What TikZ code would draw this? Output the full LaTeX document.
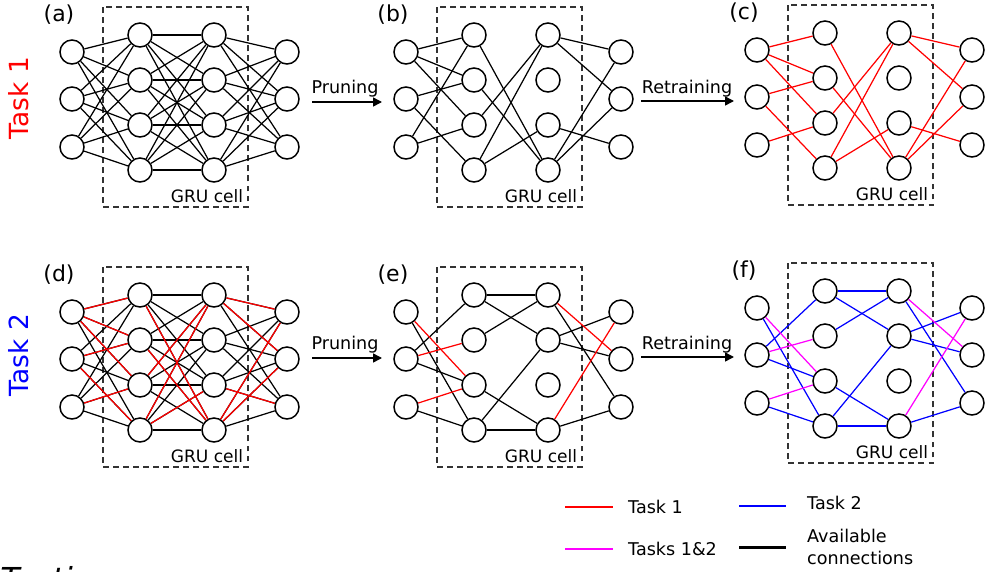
\documentclass[tikz,border=0pt]{standalone}
\usepackage{fontspec}
\setmainfont{DejaVu Sans}
\usetikzlibrary{arrows.meta}
\definecolor{taskone}{RGB}{255,0,0}
\definecolor{tasktwo}{RGB}{0,0,255}
\definecolor{taskboth}{RGB}{255,0,255}

% one panel: prefix, shift x, shift y, letter
\newcommand{\grupanel}[4]{%
  \begin{scope}[shift={(#2,#3)}]
    \foreach \k/\y in {1/52,2/99,3/147}{
      \node[unit] (#1i\k) at (72,\y) {};
      \node[unit] (#1o\k) at (287,\y) {};
    }
    \foreach \k/\y in {1/35,2/80,3/125,4/170}{
      \node[unit] (#1h\k) at (140,\y) {};
      \node[unit] (#1g\k) at (214,\y) {};
    }
    \draw[cellbox] (103,7) rectangle (248,207);
    \node[celltxt] (#1cell) at (207,196) {GRU cell};
    \node[paneltag] (#1tag) at (59,15) {(#4)};
  \end{scope}}
\newcommand{\wire}[3]{\foreach \s/\t in {#3}{\draw[#2] (#1\s) -- (#1\t);}}
\newcommand{\fullwires}[1]{%
  \foreach \p in {1,2,3}{\foreach \q in {1,2,3,4}{
    \draw[conn] (#1i\p) -- (#1h\q);
    \draw[conn] (#1g\q) -- (#1o\p);}}
  \foreach \p in {1,2,3,4}{\foreach \q in {1,2,3,4}{
    \draw[conn] (#1h\p) -- (#1g\q);}}}
\newcommand{\taskonewires}[2]{\wire{#1}{#2}{i1/h1,i1/h2,i1/h3,i2/h2,i2/h4,i3/h3,
  h1/g4,h2/g4,h3/g1,h4/g1,h4/g3,g1/o1,g1/o2,g3/o3,g4/o1,g4/o2}}

\begin{document}
\begin{tikzpicture}[x=0.02cm,y=-0.02cm,
  unit/.style={circle,draw,line width=0.85pt,minimum size=0.48cm,inner sep=0pt},
  conn/.style={line width=0.7pt},
  cellbox/.style={draw,dash pattern=on 3.4pt off 2.3pt,line width=0.7pt,black!80},
  celltxt/.style={font=\fontsize{9.7}{11}\selectfont},
  paneltag/.style={font=\fontsize{12.5}{14}\selectfont},
  steplbl/.style={font=\fontsize{10}{12}\selectfont,anchor=base},
  flow/.style={-{Triangle[length=5pt,width=5pt]},line width=0.85pt},
  tasklbl/.style={font=\fontsize{15}{17}\selectfont,rotate=90},
  legtxt/.style={font=\fontsize{10}{12.5}\selectfont,anchor=west,align=left},
  legline/.style={line width=1pt}]
\useasboundingbox (0,0) rectangle (985,572);

\node[tasklbl,taskone] (task1) at (19,98) {Task 1};
\node[tasklbl,tasktwo] (task2) at (19,355) {Task 2};

\grupanel{a}{0}{0}{a}
\grupanel{b}{334}{0}{b}
\grupanel{c}{685}{-2}{c}
\grupanel{d}{0}{260}{d}
\grupanel{e}{334}{260}{e}
\grupanel{f}{685}{256}{f}

% task 1
\fullwires{a}
\taskonewires{b}{conn}
\wire{b}{conn}{i3/h1}
\taskonewires{c}{conn,taskone}

% task 2
\fullwires{d}
\taskonewires{d}{conn,taskone}
\wire{e}{conn}{i1/h4,i2/h1,i2/h3,i3/h4,h1/g1,h1/g2,h2/g1,h3/g4,h4/g2,h4/g4,
  g1/o3,g2/o1,g2/o2,g4/o3}
\wire{e}{conn,taskone}{i1/h3,i2/h2,i3/h3,g1/o2,g4/o1}
\wire{f}{conn,tasktwo}{i1/h4,i2/h1,i2/h3,i3/h4,h1/g1,h1/g2,h2/g1,h3/g4,h4/g2,h4/g4,
  g1/o3,g2/o1,g2/o2,g4/o3}
\wire{f}{conn,taskboth}{i1/h3,i2/h2,i3/h3,g1/o2,g4/o1}

% steps between panels
\coordinate (pr1s) at (312,102); \coordinate (pr1e) at (382,102);
\coordinate (re1s) at (641,101); \coordinate (re1e) at (734,101);
\coordinate (pr2s) at (312,358); \coordinate (pr2e) at (382,358);
\coordinate (re2s) at (641,357); \coordinate (re2e) at (734,357);
\draw[flow] (pr1s) -- (pr1e);
\draw[flow] (re1s) -- (re1e);
\draw[flow] (pr2s) -- (pr2e);
\draw[flow] (re2s) -- (re2e);
\node[steplbl] (prune1) at (345,93) {Pruning};
\node[steplbl] (retrain1) at (687,93) {Retraining};
\node[steplbl] (prune2) at (345,349) {Pruning};
\node[steplbl] (retrain2) at (687,349) {Retraining};

% legend
\draw[legline,taskone] (565,507) -- (613,507);
\draw[legline,tasktwo] (739,506) -- (786,506);
\draw[legline,taskboth] (565,549) -- (613,549);
\draw[line width=1.7pt] (739,547) -- (786,547);
\node[legtxt] (legone) at (622,507) {Task 1};
\node[legtxt] (legtwo) at (801,503) {Task 2};
\node[legtxt] (legboth) at (622,549) {Tasks 1\&2};
\node[legtxt] (legfree) at (801,547) {Available\\connections};

\node[font=\fontsize{18}{20}\selectfont\itshape,anchor=base west,inner sep=0pt]
  (testing) at (0,590) {Testing};
\end{tikzpicture}
\end{document}
